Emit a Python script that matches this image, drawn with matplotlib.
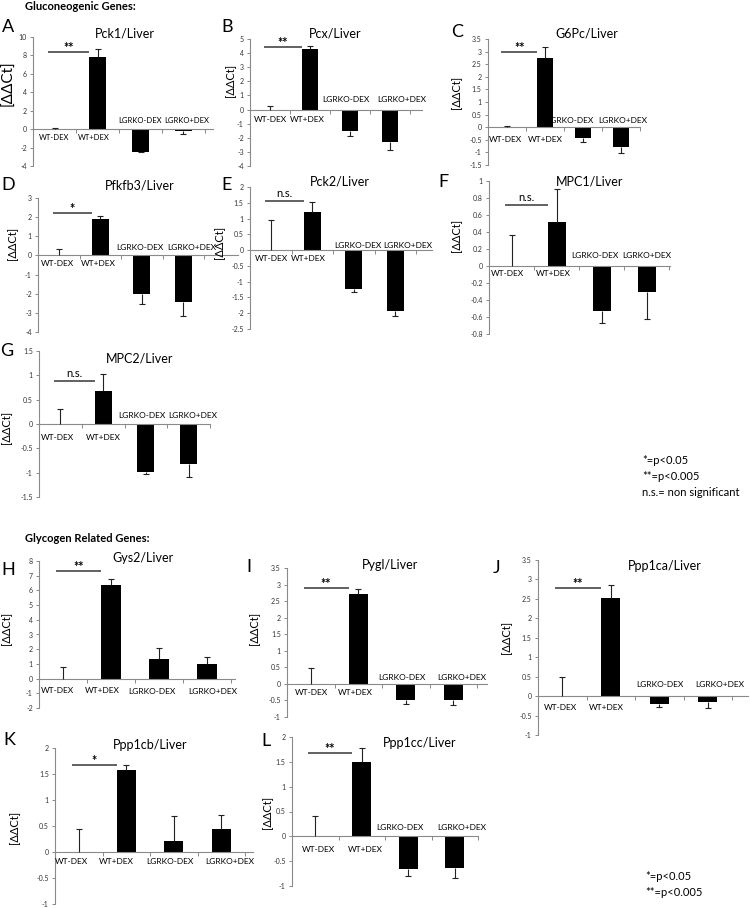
import numpy as np
import matplotlib
matplotlib.use("Agg")
import matplotlib.pyplot as plt
from matplotlib.ticker import FixedLocator, FuncFormatter

plt.rcParams['font.family'] = ['Lato', 'DejaVu Sans']

W, H = 750, 908   # figure size in pixels (dpi 100)

# ---------------------------------------------------------------------------
# Data
# ---------------------------------------------------------------------------
groups = ["WT-DEX", "WT+DEX", "LGRKO-DEX", "LGRKO+DEX"]

genes = ["Pck1", "Pcx", "G6Pc", "Pfkfb3", "Pck2", "MPC1", "MPC2",
         "Gys2", "Pygl", "Ppp1ca", "Ppp1cb", "Ppp1cc"]

pck1_mean   = [0.0, 7.85, -2.45, -0.25]
pck1_err    = [0.1, 0.85, 0.08, 0.3]
pcx_mean    = [0.0, 4.3, -1.55, -2.3]
pcx_err     = [0.25, 0.2, 0.35, 0.6]
g6pc_mean   = [0.0, 2.75, -0.43, -0.8]
g6pc_err    = [0.05, 0.45, 0.17, 0.22]
pfkfb3_mean = [0.0, 1.9, -2.0, -2.45]
pfkfb3_err  = [0.35, 0.15, 0.52, 0.7]
pck2_mean   = [0.0, 1.2, -1.22, -1.92]
pck2_err    = [0.97, 0.32, 0.1, 0.17]
mpc1_mean   = [0.0, 0.52, -0.53, -0.31]
mpc1_err    = [0.36, 0.39, 0.14, 0.31]
mpc2_mean   = [0.0, 0.67, -0.99, -0.82]
mpc2_err    = [0.31, 0.35, 0.03, 0.27]
gys2_mean   = [0.0, 6.4, 1.3, 1.0]
gys2_err    = [0.78, 0.38, 0.78, 0.48]
pygl_mean   = [0.0, 2.72, -0.5, -0.5]
pygl_err    = [0.47, 0.16, 0.1, 0.15]
ppp1ca_mean = [0.0, 2.53, -0.2, -0.14]
ppp1ca_err  = [0.48, 0.33, 0.07, 0.16]
ppp1cb_mean = [0.0, 1.57, 0.22, 0.45]
ppp1cb_err  = [0.45, 0.1, 0.47, 0.26]
ppp1cc_mean = [0.0, 1.5, -0.65, -0.63]
ppp1cc_err  = [0.41, 0.28, 0.15, 0.2]

means = [pck1_mean, pcx_mean, g6pc_mean, pfkfb3_mean, pck2_mean, mpc1_mean,
         mpc2_mean, gys2_mean, pygl_mean, ppp1ca_mean, ppp1cb_mean, ppp1cc_mean]
errs = [pck1_err, pcx_err, g6pc_err, pfkfb3_err, pck2_err, mpc1_err,
        mpc2_err, gys2_err, pygl_err, ppp1ca_err, ppp1cb_err, ppp1cc_err]

# WT-DEX vs WT+DEX significance
sig_labels  = ["**", "**", "**", "*", "n.s.", "n.s.", "n.s.", "**", "**", "**", "*", "**"]
sig_heights = [8.35, 4.4, 3.0, 2.2, 1.55, 0.72, 0.88, 7.35, 2.9, 2.78, 1.68, 1.68]

y_limits = [(-4, 10), (-4, 5), (-1.5, 3.5), (-4, 3), (-2.5, 2), (-0.8, 1),
            (-1.5, 1.5), (-2, 8), (-1, 3.5), (-1, 3.5), (-1, 2), (-1, 2)]
y_steps = [2, 1, 0.5, 1, 0.5, 0.2, 0.5, 1, 0.5, 0.5, 0.5, 0.5]

# ---------------------------------------------------------------------------
# Layout (pixels): axis box (left, right, top, bottom), category width,
# letter / title / ylabel centres, group-label offsets (dy: below zero line,
# dx: sideways nudge of each group label)
# ---------------------------------------------------------------------------
layout = [
    dict(letter="A", box=(33, 213, 37, 166), step=43, letter_xy=(8, 27), title_xy=(125, 33), ylab_xy=(8, 83), ylab_fs=11, wt_dy=8, ko_dy=-9, dx=(0, -4, 0, 3), lab_fs=5.5),
    dict(letter="B", box=(250, 422, 39, 166), step=40, letter_xy=(227, 27), title_xy=(335, 33), ylab_xy=(231, 80), ylab_fs=8, wt_dy=10, ko_dy=-10, dx=(0, -3, -4, 12), lab_fs=6),
    dict(letter="C", box=(488, 640, 39, 165), step=39, letter_xy=(457, 32), title_xy=(587, 33), ylab_xy=(457, 92), ylab_fs=8, wt_dy=12, ko_dy=-7, dx=(-2, 0, -13, 2), lab_fs=6),
    dict(letter="D", box=(38, 238, 198, 332), step=41.5, letter_xy=(8, 185), title_xy=(140, 185), ylab_xy=(13, 243), ylab_fs=8, wt_dy=8, ko_dy=-8, dx=(-1, -2, -2, 8), lab_fs=6),
    dict(letter="E", box=(250, 432, 187, 329), step=41.5, letter_xy=(227, 185), title_xy=(340, 182), ylab_xy=(220, 242), ylab_fs=8, wt_dy=8, ko_dy=-5, dx=(1, -4, 4, 13), lab_fs=6),
    dict(letter="F", box=(489, 670, 181, 334), step=45, letter_xy=(443, 182), title_xy=(590, 181), ylab_xy=(457, 235), ylab_fs=8, wt_dy=8, ko_dy=-10, dx=(-4, -3, -7, 0), lab_fs=6),
    dict(letter="G", box=(39, 210, 351, 497), step=43.5, letter_xy=(7, 351), title_xy=(140, 358), ylab_xy=(7, 427), ylab_fs=8, wt_dy=13, ko_dy=-9, dx=(-3, 0, -4, 4), lab_fs=6),
    dict(letter="H", box=(39, 235, 561, 708), step=48, letter_xy=(8, 570), title_xy=(143, 558), ylab_xy=(7, 628), ylab_fs=8, wt_dy=12, ko_dy=13, dx=(-6, -9, -7, 6), lab_fs=6),
    dict(letter="I", box=(287, 487, 568, 717), step=47.5, letter_xy=(249, 567), title_xy=(390, 565), ylab_xy=(255, 628), ylab_fs=8, wt_dy=9, ko_dy=-6, dx=(1, -3, -4, 8), lab_fs=6),
    dict(letter="J", box=(538, 748, 560, 735), step=48.5, letter_xy=(497, 568), title_xy=(665, 566), ylab_xy=(507, 637), ylab_fs=8, wt_dy=11, ko_dy=-12, dx=(-2, -4, 1, 12), lab_fs=6),
    dict(letter="K", box=(55, 253, 748, 904), step=47.5, letter_xy=(9, 740), title_xy=(150, 745), ylab_xy=(15, 827), ylab_fs=8, wt_dy=10, ko_dy=10, dx=(-7, -10, -4, 8), lab_fs=6),
    dict(letter="L", box=(292, 478, 737, 886), step=46.5, letter_xy=(266, 741), title_xy=(420, 743), ylab_xy=(268, 812), ylab_fs=8, wt_dy=13, ko_dy=-9, dx=(3, 4, -8, 7), lab_fs=6),
]

AXIS_COLOR = "#8a8a8a"


def fx(x):
    return x / W


def fy(y):
    return 1 - y / H


def tick_fmt(v, _pos):
    v = round(v, 2)
    return "0" if v == 0 else f"{v:g}"


fig = plt.figure(figsize=(W / 100, H / 100), dpi=100)

for k, lay in enumerate(layout):
    left, right, top, bottom = lay["box"]
    ax = fig.add_axes([fx(left), fy(bottom), (right - left) / W, (bottom - top) / H])
    ax.patch.set_alpha(0)

    x = np.arange(len(groups))
    m = np.array(means[k])
    e = np.array(errs[k])

    ax.bar(x, m, width=0.4, color="black", zorder=2)
    tips = np.where(m >= 0, m + e, m - e)
    ax.vlines(x, m, tips, color="#222222", lw=0.8, zorder=3)
    ax.plot(x, tips, ls="none", marker="_", ms=4, mew=0.8, color="#222222", zorder=3)

    lo, hi = y_limits[k]
    ax.set_ylim(lo, hi)
    ax.set_xlim(-0.5, -0.5 + (right - left) / lay["step"])

    ticks = np.round(np.arange(lo, hi + y_steps[k] / 2, y_steps[k]), 2)
    ax.yaxis.set_major_locator(FixedLocator(ticks))
    ax.yaxis.set_major_formatter(FuncFormatter(tick_fmt))
    ax.tick_params(axis="y", direction="out", length=2.5, width=0.7,
                   color=AXIS_COLOR, labelsize=5, labelcolor="#333333", pad=2)

    ax.set_xticks(x + 0.5)
    ax.set_xticklabels([])
    ax.tick_params(axis="x", direction="out", length=3, width=0.7, color=AXIS_COLOR)

    for side in ("top", "right"):
        ax.spines[side].set_visible(False)
    ax.spines["bottom"].set_position(("data", 0))
    for side in ("left", "bottom"):
        ax.spines[side].set_color(AXIS_COLOR)
        ax.spines[side].set_linewidth(0.8)

    # group labels around the zero line
    for i, g in enumerate(groups):
        dy = lay["wt_dy"] if i < 2 else lay["ko_dy"]
        ax.annotate(g, xy=(i, 0), xytext=(lay["dx"][i], -dy), textcoords="offset pixels",
                    ha="center", va="center", fontsize=lay["lab_fs"])

    # significance bar between WT groups
    h = sig_heights[k]
    ax.hlines(h, -0.15, 0.8, color="#555555", lw=1.3, zorder=3)
    if sig_labels[k] == "n.s.":
        ax.annotate("n.s.", xy=(0.32, h), xytext=(0, 2), textcoords="offset pixels",
                    ha="center", va="bottom", fontsize=8)
    else:
        ax.annotate(sig_labels[k], xy=(0.32, h), xytext=(0, -2), textcoords="offset pixels",
                    ha="center", va="bottom", fontsize=9, fontweight="bold")

    tx, ty = lay["title_xy"]
    fig.text(fx(tx), fy(ty), f"{genes[k]}/Liver", ha="center", va="center", fontsize=9)
    lx, ly = lay["letter_xy"]
    fig.text(fx(lx), fy(ly), lay["letter"], ha="center", va="center", fontsize=13)
    yx, yy = lay["ylab_xy"]
    fig.text(fx(yx), fy(yy), "[ΔΔCt]", ha="center", va="center", rotation=90,
             fontsize=lay["ylab_fs"])

# section headers
fig.text(fx(25), fy(7), "Gluconeogenic Genes:", ha="left", va="center",
         fontsize=8, fontweight="bold")
fig.text(fx(25), fy(538), "Glycogen Related Genes:", ha="left", va="center",
         fontsize=8, fontweight="bold")

# significance keys
for text, yy in [("*=p<0.05", 461), ("**=p<0.005", 477), ("n.s.= non significant", 493)]:
    fig.text(fx(642), fy(yy), text, ha="left", va="center", fontsize=8)
for text, yy in [("*=p<0.05", 876), ("**=p<0.005", 893)]:
    fig.text(fx(645), fy(yy), text, ha="left", va="center", fontsize=8)

fig.savefig("out.png", dpi=100)
